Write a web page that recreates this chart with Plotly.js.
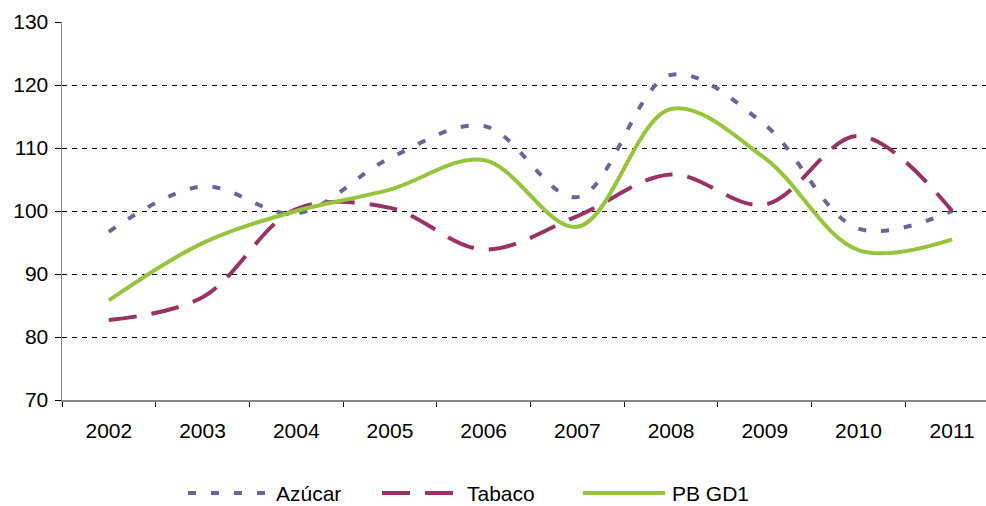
<!DOCTYPE html>
<html>
<head>
<meta charset="utf-8">
<script src="https://cdn.plot.ly/plotly-3.0.1.min.js"></script>
<style>
  html, body { margin: 0; padding: 0; background: #fff; }
  #chart { width: 986px; height: 506px; }
</style>
</head>
<body>
<div id="chart"></div>
<script>
const years = [2002, 2003, 2004, 2005, 2006, 2007, 2008, 2009, 2010, 2011];
const yearLabels = ["2002", "2003", "2004", "2005", "2006", "2007", "2008", "2009", "2010", "2011"];
const azucar = [96.7, 103.9, 99.6, 108.4, 113.5, 102.2, 121.6, 113.7, 97.2, 100.0];
const tabaco = [82.7, 86.3, 100.3, 100.5, 93.9, 99.2, 105.8, 101.0, 111.9, 100.0];
const pbgd1  = [85.8, 94.9, 100.0, 103.4, 108.1, 97.5, 116.2, 108.4, 93.8, 95.5];
const seriesNames = ["Azúcar", "Tabaco", "PB GD1"];
const yTicks = [70, 80, 90, 100, 110, 120, 130];

const colors = ["#666699", "#993366", "#96C43C"];
const dashes = ["8px,15px", "28px,15px", "solid"];
const widths = [4, 4, 4];
const seriesData = [azucar, tabaco, pbgd1];

const traces = seriesData.map((vals, i) => ({
  type: "scatter",
  mode: "lines",
  name: seriesNames[i],
  x: years,
  y: vals,
  line: { color: colors[i], width: widths[i], dash: dashes[i], shape: "spline", smoothing: 1 },
  hoverinfo: "x+y+name"
}));

const ML = 62, MT = 22, MB = 106, W = 986, H = 506;
const plotW = W - ML, plotH = H - MT - MB;
const px2x = p => (p - ML) / plotW;
const py2y = p => (MT + plotH - p) / plotH;

// legend built from shapes + annotations
const legY = py2y(493);
const legItems = [
  { x0: 188, x1: 268, tx: 274 },
  { x0: 382, x1: 454, tx: 465 },
  { x0: 583, x1: 665, tx: 670 }
];
const shapes = legItems.map((it, i) => ({
  type: "line", xref: "paper", yref: "paper",
  x0: px2x(it.x0), x1: px2x(it.x1), y0: legY, y1: legY,
  line: { color: colors[i], width: widths[i], dash: dashes[i] }
}));
const annotations = legItems.map((it, i) => ({
  xref: "paper", yref: "paper", x: px2x(it.tx), y: legY,
  xanchor: "left", yanchor: "middle", showarrow: false,
  text: seriesNames[i],
  font: { family: "Liberation Sans, Arial, sans-serif", size: 21, color: "#000" }
}));

const layout = {
  width: W, height: H,
  margin: { l: ML, r: 0, t: MT, b: MB, pad: 0 },
  paper_bgcolor: "#fff", plot_bgcolor: "#fff",
  showlegend: false,
  font: { family: "Liberation Sans, Arial, sans-serif", size: 21, color: "#000" },
  xaxis: {
    type: "linear",
    range: [2001.5, 2001.5 + plotW / 93.7],
    tickmode: "array", tickvals: years, ticktext: yearLabels,
    ticks: "", showgrid: false, zeroline: false,
    showline: true, linecolor: "#868686", linewidth: 1.5,
    ticklabelstandoff: 11,
    minor: { tickmode: "linear", tick0: 2001.5, dtick: 1, ticks: "outside", ticklen: 5, tickwidth: 1, tickcolor: "#000", showgrid: false },
    fixedrange: true
  },
  yaxis: {
    range: [70, 130],
    tickmode: "array", tickvals: yTicks,
    ticks: "outside", ticklen: 6, tickwidth: 1, tickcolor: "#000",
    showline: true, linecolor: "#868686", linewidth: 1.5,
    showgrid: true, gridcolor: "#000", gridwidth: 1, griddash: "5px,5px",
    zeroline: false,
    ticklabelstandoff: 2,
    fixedrange: true
  },
  shapes: shapes,
  annotations: annotations
};

Plotly.newPlot("chart", traces, layout, { displayModeBar: false, staticPlot: true });
</script>
</body>
</html>
